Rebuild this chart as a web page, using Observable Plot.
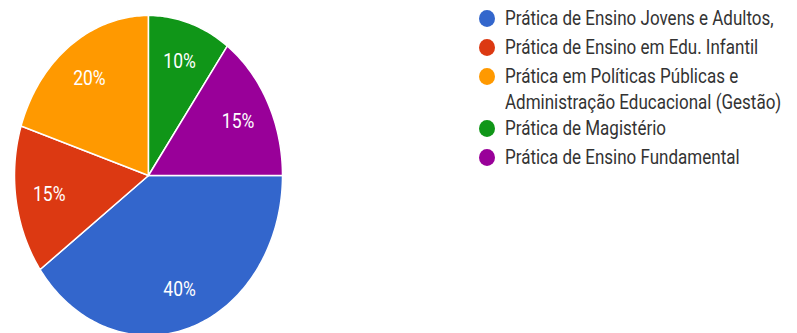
<!DOCTYPE html>
<html>
<head>
<meta charset="utf-8">
<script src="https://cdn.jsdelivr.net/npm/d3@7"></script>
<script src="https://cdn.jsdelivr.net/npm/@observablehq/plot@0.6"></script>
<style>
  html, body { margin: 0; padding: 0; background: #fff; }
  #wrap { position: relative; width: 797px; height: 333px; overflow: hidden; }
  #legend { position: absolute; left: 479px; top: 0; font-family: Roboto, "Liberation Sans", sans-serif; font-size: 17px; color: #333; }
  .sw { position: absolute; left: 0; width: 16px; height: 17px; border-radius: 50%; }
  .lbl { position: absolute; left: 26px; white-space: nowrap; line-height: 20px; transform: scaleY(1.19); transform-origin: left center; }
</style>
</head>
<body>
<div id="wrap"><div id="legend"></div></div>
<script>
const categories = [
  "Prática de Ensino Jovens e Adultos,",
  "Prática de Ensino em Edu. Infantil",
  "Prática em Políticas Públicas e Administração Educacional (Gestão)",
  "Prática de Magistério",
  "Prática de Ensino Fundamental"
];
const legendLines = [
  ["Prática de Ensino Jovens e Adultos,"],
  ["Prática de Ensino em Edu. Infantil"],
  ["Prática em Políticas Públicas e", "Administração Educacional (Gestão)"],
  ["Prática de Magistério"],
  ["Prática de Ensino Fundamental"]
];
const values = [40, 15, 20, 10, 15];
const colors = ["#3366cc", "#dc3912", "#ff9900", "#109618", "#990099"];

// Slice outlines in unit-circle coordinates, starting at 3 o'clock, clockwise
const total = d3.sum(values);
const startAngle = Math.PI / 2; // measured clockwise from 12 o'clock
let acc = 0;
const slicePts = [];
const labels = [];
categories.forEach((c, i) => {
  const a0 = startAngle + (acc / total) * 2 * Math.PI;
  acc += values[i];
  const a1 = startAngle + (acc / total) * 2 * Math.PI;
  slicePts.push({cat: c, x: 0, y: 0});
  const n = Math.max(2, Math.ceil((a1 - a0) / (Math.PI / 180)));
  for (let k = 0; k <= n; k++) {
    const a = a0 + (a1 - a0) * k / n;
    slicePts.push({cat: c, x: Math.sin(a), y: Math.cos(a)});
  }
  const am = (a0 + a1) / 2;
  labels.push({cat: c, x: 0.75 * Math.sin(am), y: 0.75 * Math.cos(am), text: Math.round(values[i] / total * 100) + "%"});
});

const chart = Plot.plot({
  width: 797,
  height: 333,
  margin: 0,
  x: {domain: [-1, 1], range: [14, 282], axis: null},
  y: {domain: [-1, 1], range: [335, 15], axis: null},
  color: {domain: categories, range: colors},
  marks: [
    Plot.line(slicePts, {x: "x", y: "y", z: "cat", fill: "cat", stroke: "white", strokeWidth: 1.5, curve: "linear-closed"}),
    Plot.text(labels, {x: "x", y: "y", text: "text", fill: "white", fontSize: 17.5, fontFamily: "Roboto, 'Liberation Sans', sans-serif", className: "pielbl"})
  ]
});
// stretch the pie labels vertically like the reference
chart.querySelectorAll("text").forEach(t => {
  const tr = t.getAttribute("transform");
  if (tr) t.setAttribute("transform", tr + " scale(1,1.19)");
});
chart.style.position = "absolute";
chart.style.left = "0";
chart.style.top = "0";
document.getElementById("wrap").prepend(chart);

// Legend
const legend = document.getElementById("legend");
const rowTops = [18, 47, 76, 128, 157];
legendLines.forEach((lines, i) => {
  const sw = document.createElement("div");
  sw.className = "sw";
  sw.style.background = colors[i];
  sw.style.top = (rowTops[i] - 8) + "px";
  legend.appendChild(sw);
  lines.forEach((t, j) => {
    const l = document.createElement("div");
    l.className = "lbl";
    l.textContent = t;
    l.style.top = (rowTops[i] - 10 + j * 26) + "px";
    legend.appendChild(l);
  });
});
</script>
</body>
</html>
